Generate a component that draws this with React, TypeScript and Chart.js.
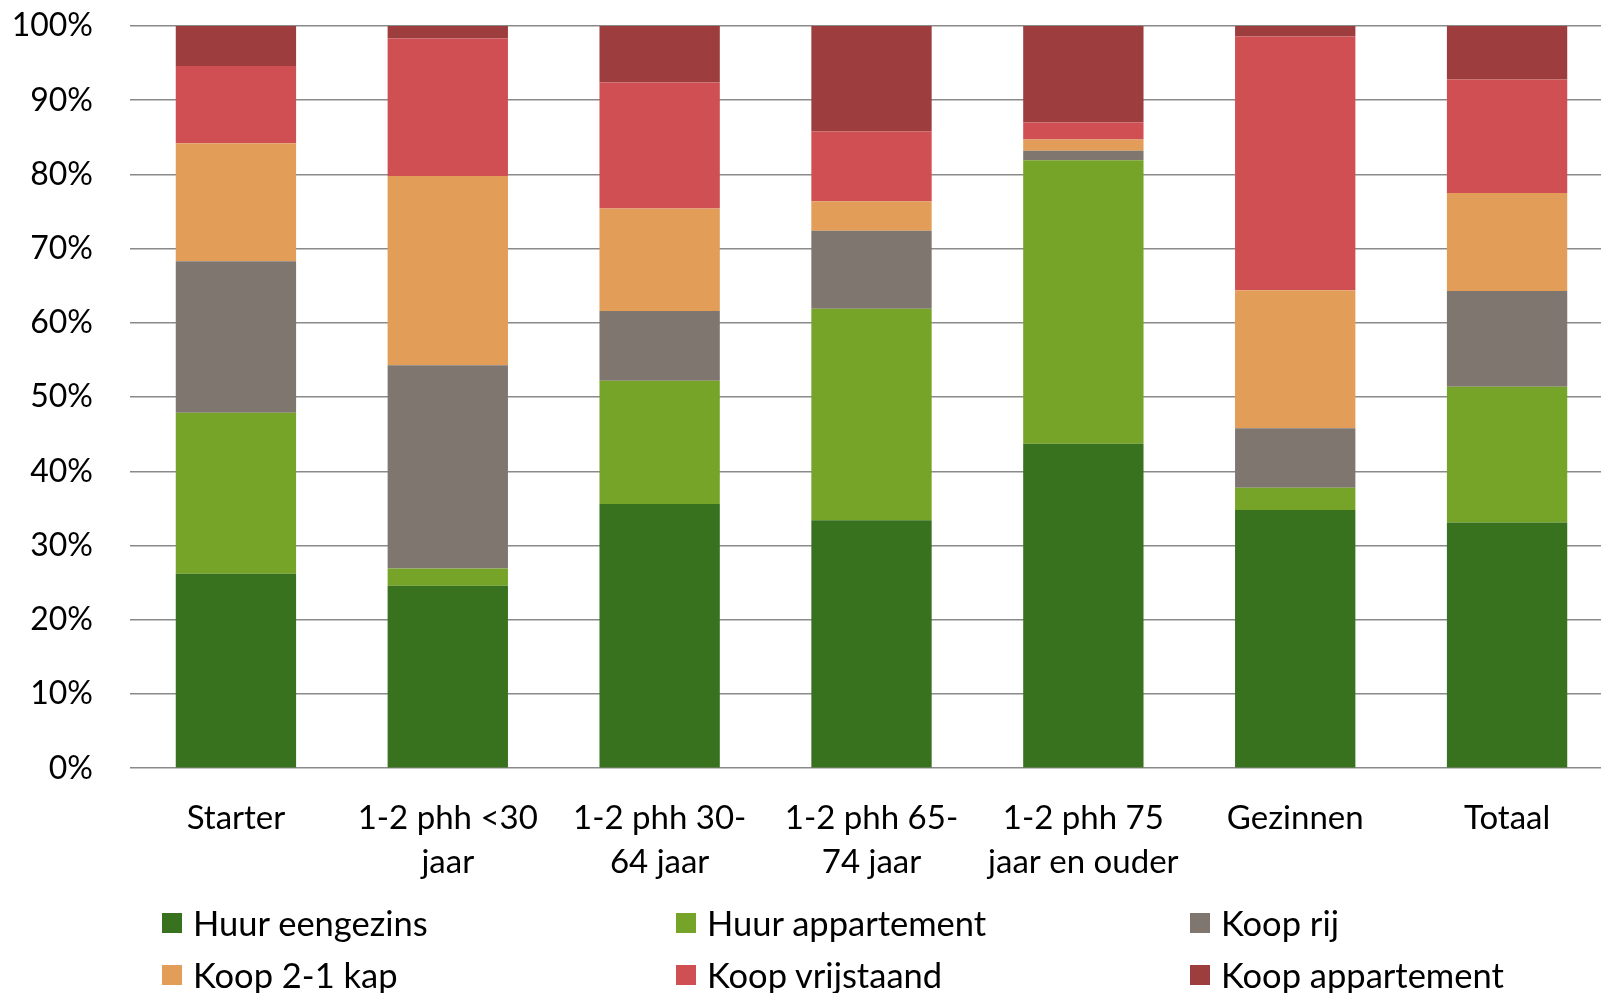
import React, { useEffect, useRef } from "react";
import { Chart, registerables } from "chart.js";

Chart.register(...registerables);

const categories: (string | string[])[] = [
  "Starter",
  ["1-2 phh <30", "jaar"],
  ["1-2 phh 30-", "64 jaar"],
  ["1-2 phh 65-", "74 jaar"],
  ["1-2 phh 75", "jaar en ouder"],
  "Gezinnen",
  "Totaal",
];

const seriesNames = [
  "Huur eengezins",
  "Huur appartement",
  "Koop rij",
  "Koop 2-1 kap",
  "Koop vrijstaand",
  "Koop appartement",
];

const huurEengezins = [26.2, 24.6, 35.6, 33.4, 43.7, 34.8, 33.1];
const huurAppartement = [21.7, 2.3, 16.6, 28.5, 38.2, 3.0, 18.3];
const koopRij = [20.4, 27.4, 9.4, 10.5, 1.3, 8.0, 12.9];
const koop21Kap = [15.9, 25.5, 13.8, 4.0, 1.5, 18.6, 13.2];
const koopVrijstaand = [10.4, 18.5, 17.0, 9.4, 2.3, 34.2, 15.3];
const koopAppartement = [5.4, 1.7, 7.6, 14.2, 13.0, 1.4, 7.2];

const seriesColors = ["#38721e", "#76a428", "#7f7670", "#e29d58", "#cf4f52", "#9e3d3e"];

const yTicks = [0, 10, 20, 30, 40, 50, 60, 70, 80, 90, 100];

const FONT = "Lato, 'Open Sans', sans-serif";

export default function App() {
  const canvasRef = useRef<HTMLCanvasElement | null>(null);

  useEffect(() => {
    if (!canvasRef.current) return;
    const values = [huurEengezins, huurAppartement, koopRij, koop21Kap, koopVrijstaand, koopAppartement];
    const chart = new Chart(canvasRef.current, {
      type: "bar",
      data: {
        labels: categories,
        datasets: seriesNames.map((name, i) => ({
          label: name,
          data: values[i],
          backgroundColor: seriesColors[i],
          borderWidth: 0,
          categoryPercentage: 1,
          barPercentage: 0.568,
        })),
      },
      options: {
        responsive: false,
        animation: false,
        layout: { padding: { top: 26, left: 0, right: 0, bottom: 0 } },
        plugins: {
          legend: { display: false },
          tooltip: { enabled: false },
        },
        scales: {
          x: {
            stacked: true,
            grid: { display: false },
            border: { display: false },
            ticks: {
              color: "#000",
              font: { family: FONT, size: 33, lineHeight: 1.33 },
              padding: 20,
              maxRotation: 0,
              autoSkip: false,
            },
          },
          y: {
            stacked: true,
            min: 0,
            max: 100,
            afterFit: (scale: any) => {
              scale.width = 130;
              scale.paddingTop = 0;
              scale.paddingBottom = 0;
            },
            afterBuildTicks: (scale: any) => {
              scale.ticks = yTicks.map((v) => ({ value: v }));
            },
            grid: { color: "#8a8a8a", lineWidth: 1.5, drawTicks: false },
            border: { display: false },
            ticks: {
              color: "#000",
              font: { family: FONT, size: 32 },
              padding: 37,
              callback: (v: any) => `${v}%`,
            },
          },
        },
      },
    });
    return () => chart.destroy();
  }, []);

  return (
    <div
      style={{
        position: "absolute",
        left: 0,
        top: 0,
        width: 1601,
        height: 993,
        overflow: "hidden",
        background: "#fff",
        fontFamily: FONT,
      }}
    >
      <canvas ref={canvasRef} width={1613} height={904} style={{ display: "block" }} />
      <div
        style={{
          position: "absolute",
          left: 162,
          top: 897,
          display: "grid",
          gridTemplateColumns: "514px 514px 514px",
          lineHeight: "52px",
          fontSize: 34.5,
          color: "#000",
        }}
      >
        {seriesNames.map((name, i) => (
          <div key={name} style={{ display: "flex", alignItems: "center", whiteSpace: "nowrap" }}>
            <span
              style={{
                display: "inline-block",
                width: 20,
                height: 20,
                background: seriesColors[i],
                marginRight: 11,
                flex: "none",
              }}
            />
            <span>{name}</span>
          </div>
        ))}
      </div>
    </div>
  );
}
